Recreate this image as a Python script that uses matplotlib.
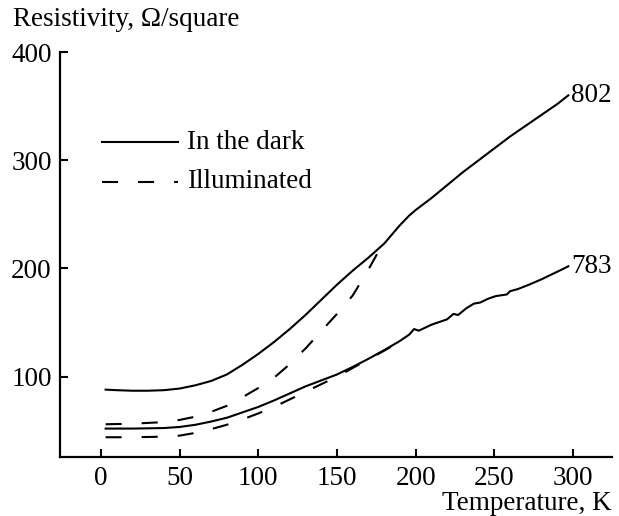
import matplotlib
matplotlib.use("Agg")
import matplotlib.pyplot as plt
from matplotlib.lines import Line2D

plt.rcParams['font.family'] = ['Liberation Serif', 'DejaVu Serif']

# Образец 802: в темноте и при освещении
t_dark_802 = [3, 10, 20, 30, 40, 50, 60, 70, 80, 90, 100, 110, 120, 130, 140, 150,
              160, 170, 180, 190, 196, 200, 210, 220, 230, 240, 250, 260, 270, 280, 290, 297]
r_dark_802 = [88, 87.5, 87, 87, 87.5, 89, 92, 96, 102, 111, 121, 132, 144, 157, 171, 185,
              198, 210, 223, 240, 249, 254, 265, 277, 289, 300, 311, 322, 332, 342, 352, 360]
t_ill_802 = [3, 20, 40, 50, 60, 70, 80, 90, 100, 110, 118, 130, 140, 150, 160, 170, 178]
r_ill_802 = [56, 56.5, 58, 60, 63, 67.5, 73, 81, 89.5, 99, 109, 126, 142, 158, 175, 199, 220]

# Образец 783
t_dark_783 = [3, 20, 40, 50, 60, 70, 80, 90, 100, 110, 120, 130, 140, 150, 160, 170, 180,
              190, 196, 199, 202, 210, 220, 224, 227, 232, 237, 241, 246, 251, 258, 260,
              265, 272, 280, 290, 297]
r_dark_783 = [52, 52, 52.5, 53.5, 55.5, 58.5, 62, 67, 72, 78, 84.5, 91, 96.5, 102, 109,
              116.5, 124.5, 133, 139, 144, 142.5, 148, 153, 158, 157, 163, 167.5, 168.5,
              172, 174.5, 176, 179, 181, 185, 190, 197, 202]
t_ill_783 = [3, 20, 40, 50, 60, 70, 80, 90, 100, 110, 120, 130, 140, 150, 160, 170, 180, 190]
r_ill_783 = [44, 44, 44.5, 45.5, 48, 51.5, 55.5, 60.5, 66, 72, 79, 86, 93, 100, 108, 116,
             124, 132.5]

x_ticks = [0, 50, 100, 150, 200, 250, 300]
y_ticks = [100, 200, 300, 400]

lw = 1.5
dash = (0, (7.7, 9.6))
fs = 19.5

fig = plt.figure(figsize=(6.19, 5.16), dpi=100)
ax = fig.add_axes([0.0969, 0.1149, 0.988 - 0.0969, 0.899 - 0.1149])

ax.plot(t_dark_802, r_dark_802, color='black', lw=lw)
ax.plot(t_ill_802, r_ill_802, color='black', lw=lw, linestyle=dash)
ax.plot(t_dark_783, r_dark_783, color='black', lw=lw)
ax.plot(t_ill_783, r_ill_783, color='black', lw=lw, linestyle=dash)

ax.annotate('802', xy=(t_dark_802[-1], r_dark_802[-1]), xytext=(2, 0),
            textcoords='offset points', va='center', ha='left', fontsize=fs)
ax.annotate('783', xy=(t_dark_783[-1], r_dark_783[-1]), xytext=(2, 0),
            textcoords='offset points', va='center', ha='left', fontsize=fs)

ax.set_xlim(-26, 324.5)
ax.set_ylim(26, 400)
ax.set_xticks(x_ticks)
ax.set_yticks(y_ticks)
ax.tick_params(direction='in', length=6, width=1.5, labelsize=fs, pad=6)
ax.tick_params(axis='x', pad=7)
for s in ['top', 'right']:
    ax.spines[s].set_visible(False)
for s in ['left', 'bottom']:
    ax.spines[s].set_linewidth(1.6)

# легенда вручную
fig.add_artist(Line2D([0.1648, 0.2876], [0.7248, 0.7248], color='black', lw=lw,
                      transform=fig.transFigure))
fig.add_artist(Line2D([0.1648, 0.2876], [0.6473, 0.6473], color='black', lw=lw,
                      linestyle=dash, transform=fig.transFigure))
fig.text(0.302, 0.7248, 'In the dark', va='center', ha='left', fontsize=fs)
fig.text(0.302, 0.6473, 'Illuminated', va='center', ha='left', fontsize=fs)

fig.text(0.021, 1 - 20 / 516, 'Resistivity, \u03a9/square', va='center', ha='left', fontsize=fs)
fig.text(0.988, 1 - 503 / 516, 'Temperature, K', va='center', ha='right', fontsize=fs)

fig.savefig('out.png', dpi=100)
